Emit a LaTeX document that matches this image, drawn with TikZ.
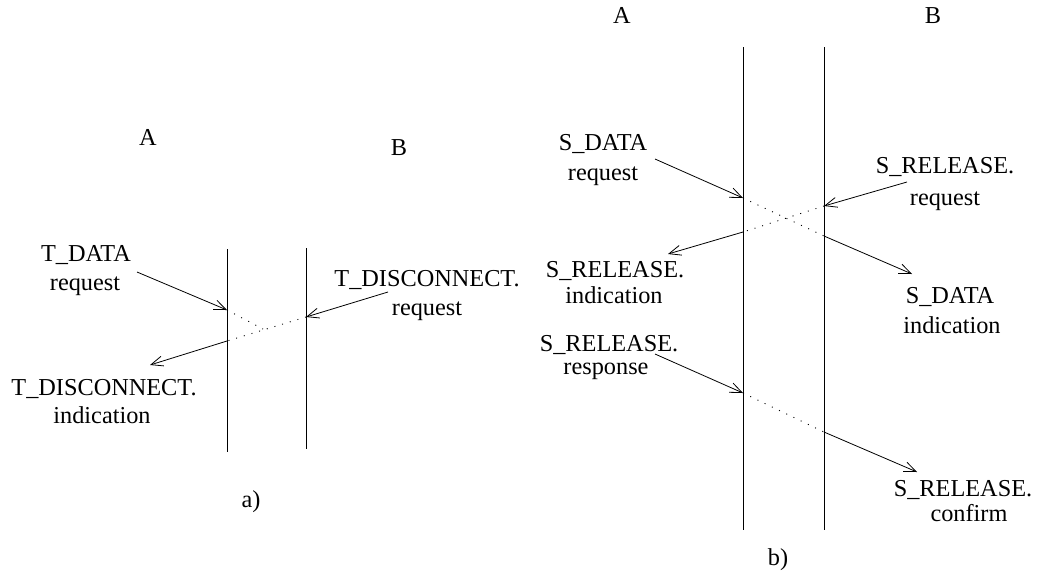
\documentclass[tikz,border=0pt]{standalone}
\usepackage{fontspec}
\setmainfont{Liberation Serif}
\usetikzlibrary{arrows.meta}

\begin{document}
\begin{tikzpicture}[
    x=1pt, y=-1pt,
    lbl/.style={anchor=base, inner sep=0pt, font=\fontsize{24.3}{28}\selectfont},
    life/.style={line width=0.9pt},
    msg/.style={-{Straight Barb[length=12pt, width=10pt]}, line width=0.8pt},
    lost/.style={line width=0.9pt, dash pattern=on 1pt off 7pt}
]
\useasboundingbox (0,0) rectangle (1038,582);

% ---------- a) ----------
\node[lbl] (aA) at (148,145) {A};
\node[lbl] (aB) at (399,155) {B};

\coordinate (aAtop) at (227,249);
\coordinate (aAbot) at (227,452);
\coordinate (aBtop) at (306,248);
\coordinate (aBbot) at (306,449);
\draw[life] (aAtop) -- (aAbot);
\draw[life] (aBtop) -- (aBbot);

% labels
\node[lbl] (tdata) at (86,261) {T\_DATA};
\node[lbl] (tdata-r) at (85,290) {request};
\node[lbl] (tdisc) at (427,286) {T\_DISCONNECT.};
\node[lbl] (tdisc-r) at (427,315) {request};
\node[lbl] (tdisci) at (104,395) {T\_DISCONNECT.};
\node[lbl] (tdisci-i) at (102,423) {indication};
\node[lbl] (alabel) at (251,507) {a)};

% data request, lost at the crossing
\coordinate (p1) at (137,272);
\coordinate (p2) at (227,310);
\coordinate (p3) at (263,329);
\draw[msg] (p1) -- (p2);
\draw[lost] (p2) -- (p3);

% disconnect
\coordinate (q1) at (388,292);
\coordinate (q2) at (306,317);
\coordinate (q3) at (227,341);
\coordinate (q4) at (150,365);
\draw[msg] (q1) -- (q2);
\draw[lost] (q2) -- (q3);
\draw[msg] (q3) -- (q4);

% ---------- b) ----------
\node[lbl] (bA) at (622,23) {A};
\node[lbl] (bB) at (933,23) {B};

\coordinate (bAtop) at (743,47);
\coordinate (bAbot) at (743,530);
\coordinate (bBtop) at (824,47);
\coordinate (bBbot) at (824,530);
\draw[life] (bAtop) -- (bAbot);
\draw[life] (bBtop) -- (bBbot);

% labels
\node[lbl] (sdata) at (603,150) {S\_DATA};
\node[lbl] (sdata-r) at (603,180) {request};
\node[lbl] (srel) at (945,173) {S\_RELEASE.};
\node[lbl] (srel-r) at (945,205) {request};
\node[lbl] (sreli) at (615,277) {S\_RELEASE.};
\node[lbl] (sreli-i) at (614,303) {indication};
\node[lbl] (sdatai) at (950,303) {S\_DATA};
\node[lbl] (sdatai-i) at (952,333) {indication};
\node[lbl] (srelr) at (609,351) {S\_RELEASE.};
\node[lbl] (srelr-r) at (606,374) {response};
\node[lbl] (srelc) at (963,496) {S\_RELEASE.};
\node[lbl] (srelc-c) at (969,521) {confirm};
\node[lbl] (blabel) at (778,565) {b)};

% data
\coordinate (r1) at (655,159);
\coordinate (r2) at (743,198);
\coordinate (r3) at (824,236);
\coordinate (r4) at (912,274);
\draw[msg] (r1) -- (r2);
\draw[lost] (r2) -- (r3);
\draw[msg] (r3) -- (r4);

% release request
\coordinate (s1) at (907,182);
\coordinate (s2) at (824,206);
\coordinate (s3) at (743,232);
\coordinate (s4) at (668,254);
\draw[msg] (s1) -- (s2);
\draw[lost] (s2) -- (s3);
\draw[msg] (s3) -- (s4);

% release response
\coordinate (t1) at (655,354);
\coordinate (t2) at (743,393);
\coordinate (t3) at (824,432);
\coordinate (t4) at (917,472);
\draw[msg] (t1) -- (t2);
\draw[lost] (t2) -- (t3);
\draw[msg] (t3) -- (t4);

\end{tikzpicture}
\end{document}
